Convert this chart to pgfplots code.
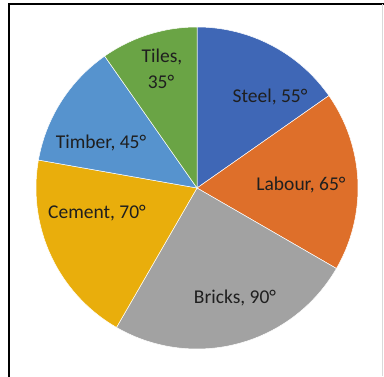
\documentclass[border=0pt]{standalone}
\usepackage{pgfplots}
\pgfplotsset{compat=1.18}
\usepackage{fontspec}
\setmainfont{Carlito}
\definecolor{cSteel}{HTML}{3F67B6}
\definecolor{cLabour}{HTML}{DE6F2A}
\definecolor{cBricks}{HTML}{A2A2A2}
\definecolor{cCement}{HTML}{E9AE0C}
\definecolor{cTimber}{HTML}{5693CE}
\definecolor{cTiles}{HTML}{6AA445}
% sector: low angle, high angle, colour (angles in degrees, counter-clockwise from east)
\newcommand{\sector}[3]{%
  \addplot[draw=white, line width=0.5pt, fill=#3, domain=#1:#2, samples=90, variable=\t]
    ({197+161*cos(\t)},{188+161*sin(\t)}) -- (axis cs:197,188) -- cycle;
}
\begin{document}
\begin{tikzpicture}
\begin{axis}[x=1pt, y=1pt, xmin=0, xmax=384, ymin=0, ymax=376,
  hide axis, clip=false, anchor=south west, at={(0,0)}]
% Steel 55, Labour 65, Bricks 90, Cement 70, Timber 45, Tiles 35 (clockwise from top)
\sector{35}{90}{cSteel}
\sector{-30}{35}{cLabour}
\sector{-120}{-30}{cBricks}
\sector{-190}{-120}{cCement}
\sector{-235}{-190}{cTimber}
\sector{-270}{-235}{cTiles}
\begin{scope}[every node/.style={font=\fontsize{19.5}{22}\selectfont, text=black!88, inner sep=0pt}]
\node at (axis cs:162,319) {Tiles,};
\node at (axis cs:161,294) {35°};
\node at (axis cs:270,279) {Steel, 55°};
\node at (axis cs:301,191) {Labour, 65°};
\node at (axis cs:235,78) {Bricks, 90°};
\node at (axis cs:97,163) {Cement, 70°};
\node at (axis cs:101,233) {Timber, 45°};
\end{scope}
\draw[black, line width=2pt] (axis cs:8.5,-2) -- (axis cs:8.5,371.5) -- (axis cs:386,371.5);
\draw[black!15, line width=0.6pt] (axis cs:382,0) -- (axis cs:382,371.5);
\end{axis}
\pgfresetboundingbox
\useasboundingbox (0,0) rectangle (384pt,376pt);
\end{tikzpicture}
\end{document}
